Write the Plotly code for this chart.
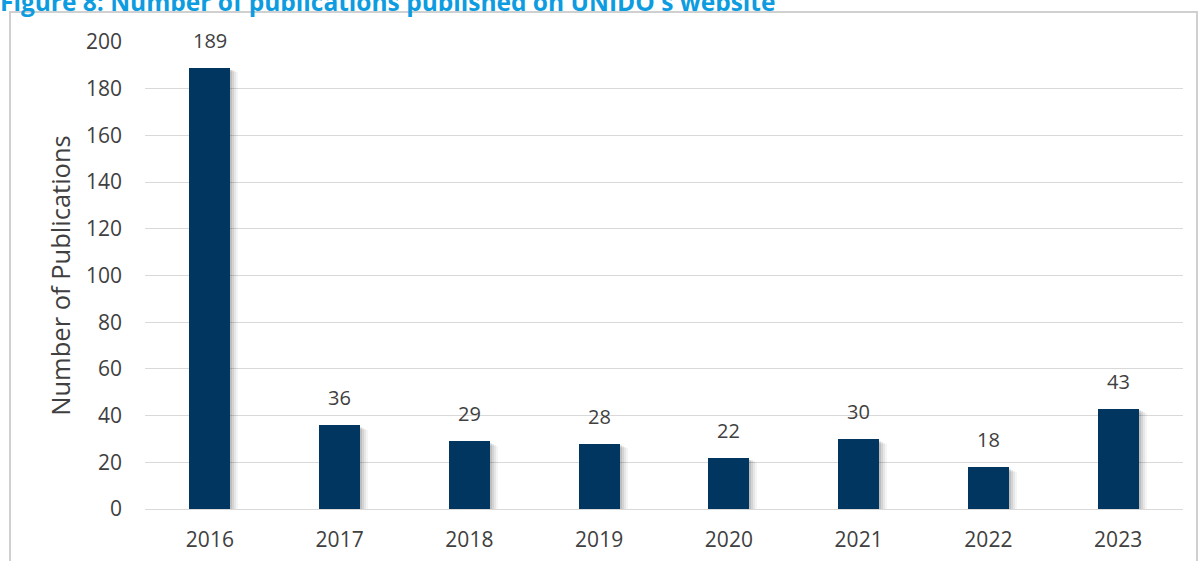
import plotly.graph_objects as go

# Publications per year
years = ["2016", "2017", "2018", "2019", "2020", "2021", "2022", "2023"]
publications = [189, 36, 29, 28, 22, 30, 18, 43]
y_ticks = [0, 20, 40, 60, 80, 100, 120, 140, 160, 180, 200]

W, H = 1198, 561
ML, MR, MT, MB = 145, 15, 42, 52
PW = W - ML - MR
PH = H - MT - MB

BAR_COLOR = "#003660"
TEXT_COLOR = "#404040"
GRID_COLOR = "#d9d9d9"
FONT = "Open Sans"
BAR_W = 0.316
cat_px = PW / len(years)
idx = list(range(len(years)))

fig = go.Figure()

# Soft drop shadow: a few offset translucent layers behind the bars
for i, alpha in enumerate([0.10, 0.08, 0.06, 0.04]):
    shift = (2 + 2 * i) / cat_px
    fig.add_trace(go.Bar(
        x=idx, y=publications,
        base=-0.8 - 0.4 * i,
        width=BAR_W, offset=-BAR_W / 2 + shift,
        marker=dict(color=f"rgba(0,0,0,{alpha})", line=dict(width=0)),
        hoverinfo="skip", showlegend=False,
    ))

fig.add_trace(go.Bar(
    x=idx, y=publications,
    width=BAR_W, offset=-BAR_W / 2,
    marker=dict(color=BAR_COLOR, line=dict(width=0)),
    showlegend=False,
))

# Value labels above the bars
for i, v in zip(idx, publications):
    fig.add_annotation(
        x=i, y=v, text=str(v), showarrow=False,
        yanchor="bottom", yshift=12,
        font=dict(family=FONT, size=20, color=TEXT_COLOR),
    )

# Figure caption, sitting at the very top edge
fig.add_annotation(
    xref="paper", yref="paper", x=-ML / PW, y=1,
    xanchor="left", yanchor="middle", xshift=-2, yshift=MT - 1.5,
    text="<b>Figure 8: Number of publications published on UNIDO's website</b>",
    showarrow=False,
    font=dict(family=FONT, size=24.5, color="#0E9CE0"),
)

# Outer frame around the chart area
fig.add_shape(
    type="rect", xref="paper", yref="paper",
    x0=(10 - ML) / PW, x1=(W - 1 - ML) / PW,
    y0=-(H + 20 - MT - PH) / PH, y1=(PH + MT - 12) / PH,
    line=dict(color="#d0d0d0", width=2), fillcolor="rgba(0,0,0,0)",
    layer="below",
)

fig.update_layout(
    width=W, height=H,
    margin=dict(l=ML, r=MR, t=MT, b=MB),
    paper_bgcolor="white", plot_bgcolor="white",
    barmode="overlay", bargap=0,
    font=dict(family=FONT, color=TEXT_COLOR),
)
fig.update_xaxes(
    range=[-0.5, len(years) - 0.5],
    tickvals=idx, ticktext=years, automargin=False,
    showgrid=False, showline=False, zeroline=False,
    tickfont=dict(family=FONT, size=21, color=TEXT_COLOR),
    ticks="", ticklabelstandoff=16,
)
fig.update_yaxes(
    range=[0, 200], tickvals=y_ticks, automargin=False,
    showgrid=True, gridcolor=GRID_COLOR, gridwidth=1,
    zeroline=True, zerolinecolor=GRID_COLOR, zerolinewidth=1,
    showline=False, ticks="", ticklabelstandoff=22,
    tickfont=dict(family=FONT, size=21, color=TEXT_COLOR),
    title=dict(text="Number of Publications", standoff=8,
               font=dict(family=FONT, size=25.5, color=TEXT_COLOR)),
)

fig.write_html("out.html")
